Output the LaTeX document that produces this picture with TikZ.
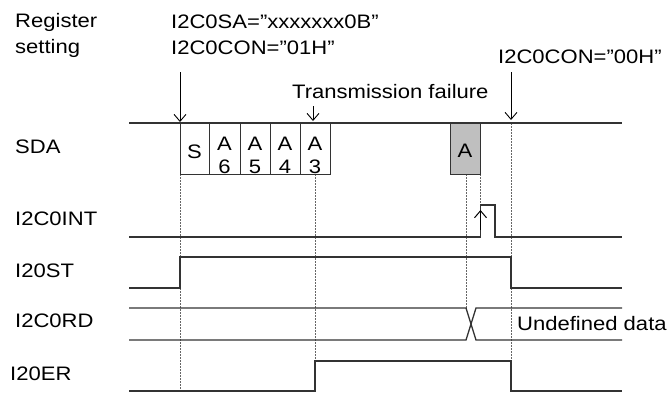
\documentclass[tikz,border=0pt]{standalone}
\usepackage{fontspec}
\setmainfont[FakeStretch=1.13]{Liberation Sans}
\usetikzlibrary{arrows.meta}
\begin{document}
\begin{tikzpicture}[x=1pt,y=-1pt,
  lbl/.style={inner sep=0pt,anchor=base west,font=\fontsize{19.5}{22}\selectfont},
  ctr/.style={inner sep=0pt,anchor=base,font=\fontsize{19.5}{22}\selectfont},
  sig/.style={line width=1.3pt,draw=black!80},
  bx/.style={line width=1pt,draw=black!80},
  dot/.style={line width=0.8pt,draw=black!60,dash pattern=on 1.5pt off 1.5pt},
  arr/.style={line width=0.9pt,-{Straight Barb[length=7pt,width=12pt]}}]
\useasboundingbox (0,0) rectangle (671,392);
% labels
\node[lbl] (reg) at (15,27) {Register};
\node[lbl] (set) at (15,53) {setting};
\node[lbl] (sa) at (171,28) {I2C0SA=”xxxxxxx0B”};
\node[lbl] (con1) at (171,54) {I2C0CON=”01H”};
\node[lbl] (tf) at (292,98) {Transmission failure};
\node[lbl] (con0) at (498,63) {I2C0CON=”00H”};
\node[lbl] (sda) at (15,153) {SDA};
\node[lbl] (int) at (15,225) {I2C0INT};
\node[lbl] (st) at (15,277) {I20ST};
\node[lbl] (rd) at (15,327) {I2C0RD};
\node[lbl] (er) at (10,380) {I20ER};
\node[lbl] (und) at (517,330) {Undefined data};
% dotted guides
\draw[dot] (180,174) -- (180,392);
\draw[dot] (315,174) -- (315,361);
\draw[dot] (466,174) -- (466,308);
\draw[dot] (480,174) -- (480,205);
\draw[dot] (511,123) -- (511,392);
% SDA
\fill[black!25] (450,123) rectangle (480,174);
\draw[sig] (129,123) -- (622,123);
\draw[bx] (180,123) rectangle (330,174);
\foreach \x in {209,240,270,300} \draw[bx] (\x,123) -- (\x,174);
\draw[bx] (450,123) -- (450,174) -- (480,174) -- (480,123);
\node[ctr] (s) at (194.5,158) {S};
\foreach \x/\d [count=\i] in {224.5/6,255/5,285/4,315/3} {
  \node[ctr] (a\i) at (\x,150) {A};
  \node[ctr] (d\i) at (\x,173) {\d};
}
\node[ctr] (ga) at (465,157) {A};
% arrows
\coordinate (ar1) at (180,72);
\coordinate (ar1e) at (180,122);
\draw[arr] (ar1) -- (ar1e);
\coordinate (ar2) at (313,106);
\coordinate (ar2e) at (313,121);
\draw[arr] (ar2) -- (ar2e);
\coordinate (ar3) at (511,72);
\coordinate (ar3e) at (511,120);
\draw[arr] (ar3) -- (ar3e);
% I2C0INT
\draw[sig] (129,237) -- (480.5,237) -- (480.5,205) -- (495,205) -- (495,237) -- (622,237);
\coordinate (ia) at (480.5,230);
\coordinate (ib) at (480.5,210);
\draw[arr,line width=1pt] (ia) -- (ib);
% I20ST
\draw[sig] (129,288) -- (180,288) -- (180,257) -- (511,257) -- (511,288) -- (622,288);
% I2C0RD
\draw[sig] (129,308) -- (466,308) -- (476,340) -- (622,340);
\draw[sig] (129,340) -- (466,340) -- (476,308) -- (622,308);
% I20ER
\draw[sig] (129,391) -- (315,391) -- (315,361) -- (511,361) -- (511,391) -- (622,391);
\end{tikzpicture}
\end{document}
